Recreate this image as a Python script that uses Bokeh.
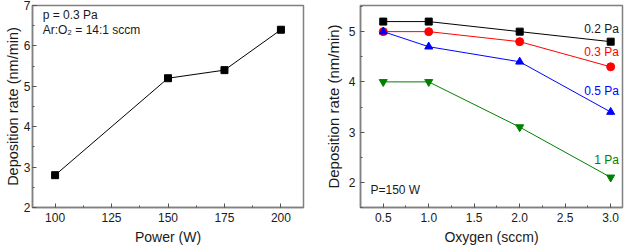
from bokeh.plotting import figure
from bokeh.layouts import row
from bokeh.models import SingleIntervalTicker, PrintfTickFormatter, Label
from bokeh.embed import file_html
from bokeh.resources import INLINE

# Left panel: deposition rate vs sputtering power
power = [100, 150, 175, 200]
rate_power = [2.8, 5.2, 5.4, 6.4]

# Right panel: deposition rate vs oxygen flow at several pressures
oxygen = [0.5, 1.0, 2.0, 3.0]
rate_02pa = [5.2, 5.2, 5.0, 4.8]
rate_03pa = [5.0, 5.0, 4.8, 4.3]
rate_05pa = [5.0, 4.7, 4.4, 3.4]
rate_1pa = [4.0, 4.0, 3.1, 2.1]
series_names = ["0.2 Pa", "0.3 Pa", "0.5 Pa", "1 Pa"]

FONT = "Liberation Sans"
FRAME = "#808080"
TXT = "#1a1a1a"


def style(p):
    p.xgrid.visible = False
    p.ygrid.visible = False
    p.outline_line_color = FRAME
    p.outline_line_width = 1.5
    p.background_fill_color = "white"
    p.border_fill_color = "white"
    for ax in p.axis:
        ax.axis_line_color = FRAME
        ax.axis_line_width = 1.5
        ax.major_tick_in = 4
        ax.major_tick_out = 0
        ax.minor_tick_in = 2
        ax.minor_tick_out = 0
        ax.major_tick_line_color = "#555555"
        ax.minor_tick_line_color = "#555555"
        ax.major_label_text_font = FONT
        ax.major_label_text_font_size = "12px"
        ax.major_label_text_color = TXT
        ax.major_label_standoff = 5
        ax.axis_label_text_font = FONT
        ax.axis_label_text_font_style = "normal"
        ax.axis_label_text_color = TXT
        ax.axis_label_standoff = 4
    p.xaxis.axis_label_text_font_size = "14px"
    p.yaxis.axis_label_text_font_size = "15px"


p1 = figure(width=320, height=252, x_range=(90, 210), y_range=(2, 7),
            output_backend="svg", toolbar_location=None,
            min_border_left=32, min_border_right=17,
            min_border_top=5, min_border_bottom=43)
p1.xaxis.ticker = SingleIntervalTicker(interval=25, num_minor_ticks=2)
p1.yaxis.ticker = SingleIntervalTicker(interval=1, num_minor_ticks=2)
p1.xaxis.axis_label = "Power (W)"
p1.yaxis.axis_label = "Deposition rate (nm/min)"
style(p1)
p1.yaxis.major_label_standoff = 2
p1.yaxis.axis_label_standoff = 0
p1.yaxis.axis_label_text_font_size = "14.5px"
p1.line(power, rate_power, line_color="black", line_width=1)
p1.scatter(power, rate_power, marker="square", size=7, color="black")
p1.add_layout(Label(x=94.5, y=6.77, text="p = 0.3 Pa", text_font=FONT,
                    text_font_size="12px", text_color=TXT, text_baseline="middle"))
p1.add_layout(Label(x=94.5, y=6.39, text="Ar:O\u2082 = 14:1 sccm", text_font=FONT,
                    text_font_size="12px", text_color=TXT, text_baseline="middle"))

p2 = figure(width=315, height=252, x_range=(0.25, 3.13), y_range=(1.5, 5.52),
            output_backend="svg", toolbar_location=None,
            min_border_left=40, min_border_right=13,
            min_border_top=4, min_border_bottom=45)
p2.xaxis.ticker = SingleIntervalTicker(interval=0.5, num_minor_ticks=2)
p2.xaxis.formatter = PrintfTickFormatter(format="%.1f")
p2.yaxis.ticker = SingleIntervalTicker(interval=1, num_minor_ticks=2)
p2.xaxis.axis_label = "Oxygen (sccm)"
p2.yaxis.axis_label = "Deposition rate (nm/min)"
style(p2)

colors = ["black", "#ff0000", "#0000ff", "#008000"]
markers = ["square", "circle", "triangle", "inverted_triangle"]
sizes = [7, 8, 8, 8]
series = [rate_02pa, rate_03pa, rate_05pa, rate_1pa]
label_y = [5.05, 4.59, 3.82, 2.45]
for name, ys, c, m, s, ly in zip(series_names, series, colors, markers, sizes, label_y):
    p2.line(oxygen, ys, line_color=c, line_width=1)
    p2.scatter(oxygen, ys, marker=m, size=s, color=c)
    p2.add_layout(Label(x=3.09, y=ly, text=name, text_font=FONT, text_font_size="12px",
                        text_color=c if c != "black" else TXT,
                        text_align="right", text_baseline="middle"))
p2.add_layout(Label(x=0.36, y=1.855, text="P=150 W", text_font=FONT,
                    text_font_size="12px", text_color=TXT, text_baseline="middle"))

layout = row(p1, p2)
open("out.html", "w").write(file_html(layout, INLINE))
